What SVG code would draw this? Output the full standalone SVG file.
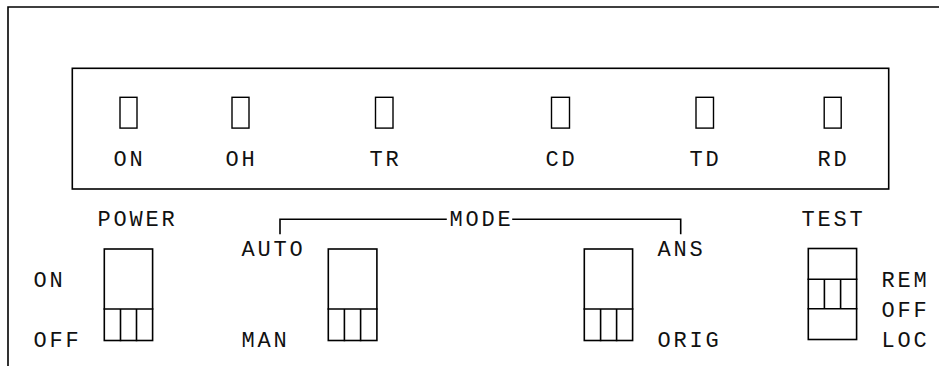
<svg xmlns="http://www.w3.org/2000/svg" width="939" height="366" viewBox="0 0 939 366">
<style>
.ln{fill:none;stroke:#000;stroke-width:1.6;stroke-linecap:square}
.led{fill:none;stroke:#000;stroke-width:1.4}
.t{font-family:"Courier New","Liberation Mono",monospace;font-size:22px;letter-spacing:2.8px;fill:#111}
</style>
<rect width="939" height="366" fill="#fff"/>
<g id="panel">
<path class="ln" d="M8,366 V7 H939"/>
</g>
<g id="display">
<rect class="ln" x="72.3" y="68.3" width="816.4" height="120.7"/>
</g>
<g id="led-on"><rect class="led" x="120" y="97.3" width="17" height="30.8"/><text class="t" x="113.4" y="166">ON</text></g>
<g id="led-oh"><rect class="led" x="232" y="97.3" width="17" height="30.8"/><text class="t" x="225.4" y="166">OH</text></g>
<g id="led-tr"><rect class="led" x="375.5" y="97.3" width="17.5" height="30.8"/><text class="t" x="369.4" y="166">TR</text></g>
<g id="led-cd"><rect class="led" x="551.5" y="97.3" width="18" height="30.8"/><text class="t" x="545.4" y="166">CD</text></g>
<g id="led-td"><rect class="led" x="696" y="97.3" width="17.5" height="30.8"/><text class="t" x="689.4" y="166">TD</text></g>
<g id="led-rd"><rect class="led" x="824.2" y="97.3" width="17" height="30.8"/><text class="t" x="817.4" y="166">RD</text></g>
<g id="power-switch">
<text class="t" x="97.4" y="226">POWER</text>
<text class="t" x="33.4" y="286.5">ON</text>
<text class="t" x="33.4" y="347">OFF</text>
<rect class="ln" x="104.3" y="249" width="48.3" height="91.5"/>
<path class="ln" d="M104.3,309 H152.6 M120.5,309 V340.5 M136.5,309 V340.5"/>
</g>
<g id="mode-label">
<text class="t" x="449.4" y="226">MODE</text>
<text class="t" x="241.4" y="256">AUTO</text>
<text class="t" x="241.4" y="347">MAN</text>
<text class="t" x="657.4" y="256">ANS</text>
<text class="t" x="657.4" y="347">ORIG</text>
</g>
<g id="mode-switch-left">
<rect class="ln" x="328.3" y="249" width="48.6" height="91.5"/>
<path class="ln" d="M328.3,309 H376.9 M344.4,309 V340.5 M360.6,309 V340.5"/>
</g>
<g id="mode-switch-right">
<rect class="ln" x="584.3" y="249" width="48.3" height="91.5"/>
<path class="ln" d="M584.3,309 H632.6 M600.6,309 V340.5 M616.6,309 V340.5"/>
</g>
<g id="test-switch">
<text class="t" x="801.4" y="226">TEST</text>
<text class="t" x="881.4" y="286.5">REM</text>
<text class="t" x="881.4" y="316.5">OFF</text>
<text class="t" x="881.4" y="347">LOC</text>
<rect class="ln" x="808.3" y="248.5" width="48.3" height="91"/>
<path class="ln" d="M808.3,279.3 H856.6 M808.3,308.8 H856.6 M824.4,279.3 V308.8 M840.6,279.3 V308.8"/>
</g>
<g id="connectors">
<path class="ln" d="M280,233.5 V219.2 H446"/>
<path class="ln" d="M513,219.2 H680.7 V233.5"/>
</g>
</svg>
